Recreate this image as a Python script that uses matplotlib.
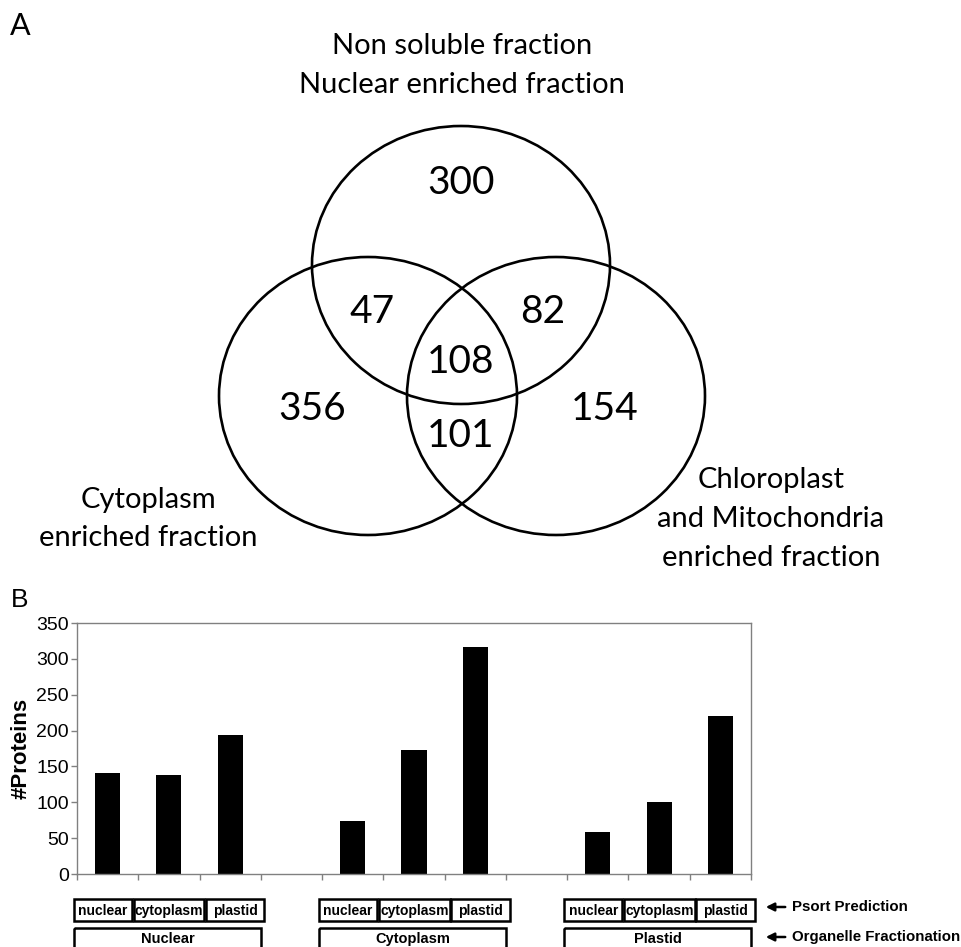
import matplotlib

matplotlib.use("Agg")
import matplotlib.pyplot as plt
from matplotlib import font_manager, transforms
from matplotlib.patches import Ellipse, Rectangle

# Venn region counts
ONLY_NUCLEAR = 300
NUCLEAR_CYTO = 47
NUCLEAR_PLASTID = 82
ALL_THREE = 108
ONLY_CYTO = 356
CYTO_PLASTID = 101
ONLY_PLASTID = 154

# bar chart: organelle fraction x Psort prediction
FRACTIONS = ["Nuclear", "Cytoplasm", "Plastid"]
PSORT = ["nuclear", "cytoplasm", "plastid"]
NUCLEAR_FRACTION = [141, 138, 194]
CYTOPLASM_FRACTION = [74, 173, 317]
PLASTID_FRACTION = [59, 101, 220]
YTICKS = [0, 50, 100, 150, 200, 250, 300, 350]


def pick(*names):
    have = {f.name for f in font_manager.fontManager.ttflist}
    for n in names:
        if n in have:
            return n
    return "DejaVu Sans"


VENN_FONT = pick("Lato", "Open Sans", "Noto Sans")
NARROW = pick("Liberation Sans Narrow", "Liberation Sans")
SANS = pick("Liberation Sans", "DejaVu Sans")

fig = plt.figure(figsize=(9.62, 9.47), dpi=100)
over = fig.add_axes([0, 0, 1, 1], zorder=0)
over.set_xlim(0, 962)
over.set_ylim(947, 0)
over.axis("off")

# ---- panel A: Venn diagram (pixel layout) ----
over.text(10, 35, "A", fontsize=22, family=VENN_FONT, va="baseline")
for (x, y, s) in [(462, 46, "Non soluble fraction"), (462, 85, "Nuclear enriched fraction"),
                  (148, 500, "Cytoplasm"), (148, 538, "enriched fraction"),
                  (771, 480, "Chloroplast"), (771, 519, "and Mitochondria"),
                  (771, 558, "enriched fraction")]:
    over.text(x, y, s, fontsize=21, family=VENN_FONT, ha="center", va="center")

for cx, cy in [(461, 265), (368, 396), (556, 396)]:
    over.add_patch(Ellipse((cx, cy), 298, 278, fill=False, lw=1.9, ec="black"))

for (x, y, v) in [(461, 183, ONLY_NUCLEAR), (372, 312, NUCLEAR_CYTO), (543, 312, NUCLEAR_PLASTID),
                  (461, 362, ALL_THREE), (312, 409, ONLY_CYTO), (461, 436, CYTO_PLASTID),
                  (605, 409, ONLY_PLASTID)]:
    over.text(x, y, str(v), fontsize=28, family=VENN_FONT, ha="center", va="center")

# ---- panel B: bar chart ----
over.text(11, 607, "B", fontsize=19, family=SANS, va="baseline")

ax = fig.add_axes([77 / 962, 1 - 874 / 947, 674 / 962, 251 / 947], zorder=1)
values = [NUCLEAR_FRACTION, CYTOPLASM_FRACTION, PLASTID_FRACTION]
for g, vals in enumerate(values):
    xs = [4 * g + j for j in range(len(PSORT))]
    ax.bar(xs, vals, width=0.41, color="black")
ax.set_xlim(-0.5, 10.5)
ax.set_ylim(0, 350)
ax.set_yticks(YTICKS)
ax.set_xticks([i - 0.5 for i in range(12)])
ax.set_xticklabels([])
for sp in ax.spines.values():
    sp.set_color("#808080")
    sp.set_linewidth(1.0)
ax.tick_params(axis="both", direction="out", length=4, width=1, color="#808080")
ax.tick_params(axis="y", labelsize=14, pad=2)
for lab in ax.get_yticklabels():
    lab.set_family(NARROW)
ax.set_ylabel("#Proteins", fontsize=16, fontweight="bold", family=SANS, labelpad=3)

# category boxes below the axis (x in bar slots, y in pixels)
tr = transforms.blended_transform_factory(ax.transData, over.transData)
widths = [0.95, 1.15, 0.95]
gap = 0.03
for g, frac in enumerate(FRACTIONS):
    x0 = 4 * g - 0.55
    for j, name in enumerate(PSORT):
        over.add_patch(Rectangle((x0, 899), widths[j], 22, transform=tr, fill=False,
                                 lw=1.8, ec="black", clip_on=False))
        over.text(x0 + widths[j] / 2, 910.5, name, transform=tr, ha="center", va="center",
                  fontsize=10, fontweight="bold", family=NARROW)
        x0 += widths[j] + gap
    over.add_patch(Rectangle((4 * g - 0.55, 928), 3.05, 30, transform=tr, fill=False,
                             lw=1.8, ec="black", clip_on=False))
    over.text(4 * g + 0.975, 939, frac, transform=tr, ha="center", va="center",
              fontsize=10.5, fontweight="bold", family=NARROW)

for y, s in [(907, "Psort Prediction"), (937, "Organelle Fractionation")]:
    over.annotate("", xy=(763, y), xytext=(788, y),
                  arrowprops=dict(arrowstyle="-|>", color="black", lw=1.8, mutation_scale=12))
    over.text(792, y, s, fontsize=10.8, fontweight="bold", family=NARROW, va="center")

fig.savefig("out.png", dpi=100)
